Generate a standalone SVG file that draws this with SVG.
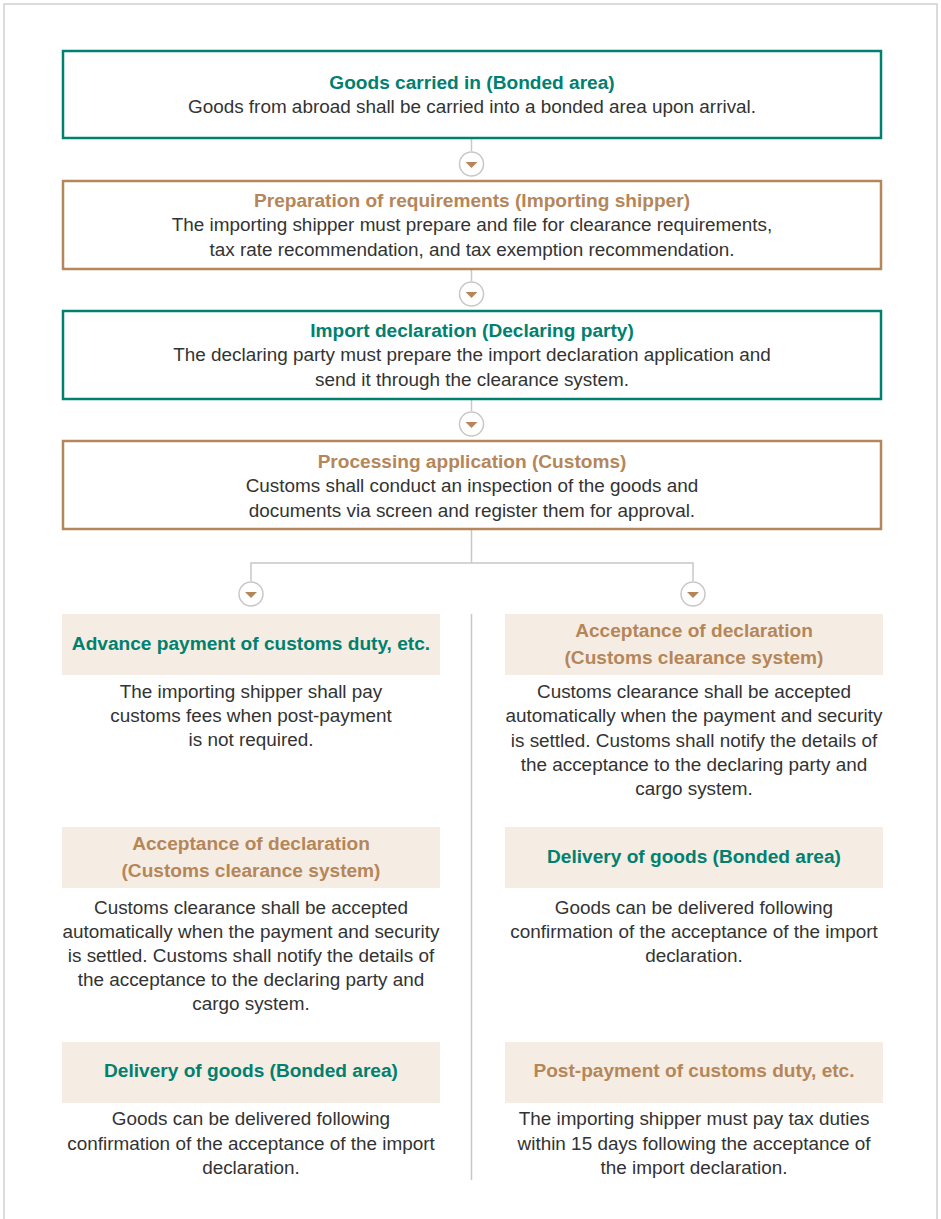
<svg xmlns="http://www.w3.org/2000/svg" width="941" height="1219" viewBox="0 0 941 1219">
<style>
text{font-family:"Liberation Sans",Arial,sans-serif;font-size:18.9px;text-anchor:middle}
.b{fill:#333}
.tt{fill:#00806f;font-weight:bold;font-size:19.1px}
.tb{fill:#b5865a;font-weight:bold;font-size:19.1px}
.bt{fill:none;stroke:#00806f;stroke-width:2.5}
.bb{fill:none;stroke:#b5865a;stroke-width:2.5}
.hd{fill:#f5ede3}
.ln{fill:none;stroke:#c8c8c8;stroke-width:1.5}
.ci{fill:#fff;stroke:#c8c8c8;stroke-width:1.5}
.ar{fill:#b5865a}
</style>
<defs>
<g id="arr"><circle class="ci" cx="0" cy="0" r="12"/><path class="ar" d="M-6,-2 L6,-2 L0,4 Z"/></g>
</defs>
<rect x="4" y="4" width="933" height="1230" fill="#fff" stroke="#d0d0d0" stroke-width="1.5"/>
<g id="connectors">
<line class="ln" x1="471.5" y1="138" x2="471.5" y2="151"/>
<use href="#arr" x="471.5" y="164"/>
<line class="ln" x1="471.5" y1="269" x2="471.5" y2="281"/>
<use href="#arr" x="471.5" y="294"/>
<line class="ln" x1="471.5" y1="399" x2="471.5" y2="411"/>
<use href="#arr" x="471.5" y="424"/>
<path class="ln" d="M471.5,529 V563 M251,581 V563 H693 V581"/>
<use href="#arr" x="251" y="594"/>
<use href="#arr" x="693" y="594"/>
<line class="ln" x1="471.5" y1="614" x2="471.5" y2="1180"/>
</g>
<g id="n1">
<rect class="bt" x="63" y="51" width="818" height="87"/>
<text class="tt" x="472" y="89">Goods carried in (Bonded area)</text>
<text class="b" x="472" y="113">Goods from abroad shall be carried into a bonded area upon arrival.</text>
</g>
<g id="n2">
<rect class="bb" x="63" y="181" width="818" height="88"/>
<text class="tb" x="472" y="207">Preparation of requirements (Importing shipper)</text>
<text class="b" x="472" y="231">The importing shipper must prepare and file for clearance requirements,</text>
<text class="b" x="472" y="256">tax rate recommendation, and tax exemption recommendation.</text>
</g>
<g id="n3">
<rect class="bt" x="63" y="311" width="818" height="88"/>
<text class="tt" x="472" y="337">Import declaration (Declaring party)</text>
<text class="b" x="472" y="361">The declaring party must prepare the import declaration application and</text>
<text class="b" x="472" y="386">send it through the clearance system.</text>
</g>
<g id="n4">
<rect class="bb" x="63" y="441" width="818" height="88"/>
<text class="tb" x="472" y="468">Processing application (Customs)</text>
<text class="b" x="472" y="492">Customs shall conduct an inspection of the goods and</text>
<text class="b" x="472" y="517">documents via screen and register them for approval.</text>
</g>
<g id="l1">
<rect class="hd" x="62" y="614" width="378" height="61"/>
<text class="tt" x="251" y="650">Advance payment of customs duty, etc.</text>
<text class="b" x="251" y="698">The importing shipper shall pay</text>
<text class="b" x="251" y="722">customs fees when post-payment</text>
<text class="b" x="251" y="746">is not required.</text>
</g>
<g id="r1">
<rect class="hd" x="505" y="614" width="378" height="61"/>
<text class="tb" x="694" y="637">Acceptance of declaration</text>
<text class="tb" x="694" y="664">(Customs clearance system)</text>
<text class="b" x="694" y="698">Customs clearance shall be accepted</text>
<text class="b" x="694" y="722">automatically when the payment and security</text>
<text class="b" x="694" y="747">is settled. Customs shall notify the details of</text>
<text class="b" x="694" y="771">the acceptance to the declaring party and</text>
<text class="b" x="694" y="795">cargo system.</text>
</g>
<g id="l2">
<rect class="hd" x="62" y="827" width="378" height="61"/>
<text class="tb" x="251" y="850">Acceptance of declaration</text>
<text class="tb" x="251" y="877">(Customs clearance system)</text>
<text class="b" x="251" y="914">Customs clearance shall be accepted</text>
<text class="b" x="251" y="938">automatically when the payment and security</text>
<text class="b" x="251" y="962">is settled. Customs shall notify the details of</text>
<text class="b" x="251" y="986">the acceptance to the declaring party and</text>
<text class="b" x="251" y="1010">cargo system.</text>
</g>
<g id="r2">
<rect class="hd" x="505" y="827" width="378" height="61"/>
<text class="tt" x="694" y="863">Delivery of goods (Bonded area)</text>
<text class="b" x="694" y="914">Goods can be delivered following</text>
<text class="b" x="694" y="938">confirmation of the acceptance of the import</text>
<text class="b" x="694" y="962">declaration.</text>
</g>
<g id="l3">
<rect class="hd" x="62" y="1042" width="378" height="61"/>
<text class="tt" x="251" y="1077">Delivery of goods (Bonded area)</text>
<text class="b" x="251" y="1125">Goods can be delivered following</text>
<text class="b" x="251" y="1150">confirmation of the acceptance of the import</text>
<text class="b" x="251" y="1174">declaration.</text>
</g>
<g id="r3">
<rect class="hd" x="505" y="1042" width="378" height="61"/>
<text class="tb" x="694" y="1077">Post-payment of customs duty, etc.</text>
<text class="b" x="694" y="1125">The importing shipper must pay tax duties</text>
<text class="b" x="694" y="1150">within 15 days following the acceptance of</text>
<text class="b" x="694" y="1174">the import declaration.</text>
</g>
</svg>
